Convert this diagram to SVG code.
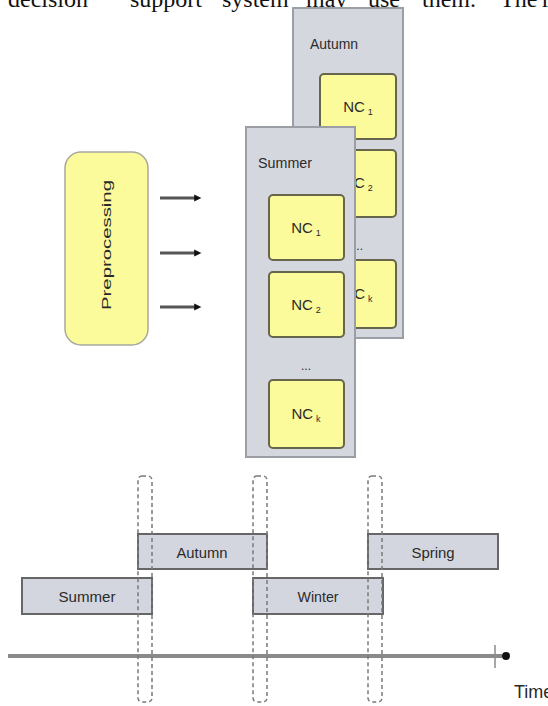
<svg xmlns="http://www.w3.org/2000/svg" width="548" height="706" viewBox="0 0 548 706">
<style>
.body{font-family:"Liberation Serif","Times New Roman",serif;font-size:24px;fill:#111}
.lbl{font-family:"Liberation Sans",Arial,sans-serif;fill:#2a2a2a}
.panel{fill:#d5d7df;stroke:#9c9ea6;stroke-width:2}
.nc{fill:#fbfb9c;stroke:#66664e;stroke-width:2}
.bar{fill:#d4d6df;stroke:#666;stroke-width:2}
.dash{fill:none;stroke:#7a7a7a;stroke-width:1.5;stroke-dasharray:4 3}
.arr{stroke:#555;stroke-width:3;marker-end:url(#ah)}
</style>
<defs>
<marker id="ah" viewBox="0 0 10 10" refX="2" refY="5" markerWidth="3" markerHeight="3" orient="auto">
<path d="M0,1 L8,5 L0,9 Z" fill="#111"/>
</marker>
</defs>
<rect width="548" height="706" fill="#fff"/>
<g id="para">
<text class="body" x="8" y="7">decision</text>
<text class="body" x="130" y="7">support</text>
<text class="body" x="222" y="7">system</text>
<text class="body" x="306" y="7">may</text>
<text class="body" x="368" y="7">use</text>
<text class="body" x="422" y="7">them.</text>
<text class="body" x="500" y="7">The</text>
<text class="body" x="542" y="7">r</text>
</g>
<g id="preprocessing">
<rect x="65" y="152" width="83" height="193" rx="16" fill="#fbfb9c" stroke="#a8a8a0" stroke-width="1.5"/>
<text class="lbl" transform="translate(111,245) rotate(-90)" text-anchor="middle" font-size="13" textLength="130" lengthAdjust="spacingAndGlyphs">Preprocessing</text>
</g>
<g id="connectors">
<line class="arr" x1="160" y1="198" x2="196" y2="198"/>
<line class="arr" x1="160" y1="253" x2="196" y2="253"/>
<line class="arr" x1="160" y1="307" x2="196" y2="307"/>
</g>
<g id="autumn-panel">
<rect class="panel" x="293" y="8" width="110" height="330"/>
<text class="lbl" x="310" y="49" font-size="15" textLength="48" lengthAdjust="spacingAndGlyphs">Autumn</text>
<g id="autumn-nc1"><rect class="nc" x="320" y="74" width="76" height="65" rx="4"/><text class="lbl" x="358" y="112" font-size="15" text-anchor="middle">NC<tspan font-size="9" dx="3" dy="3">1</tspan></text></g>
<g id="autumn-nc2"><rect class="nc" x="320" y="150" width="76" height="67" rx="4"/><text class="lbl" x="358" y="188" font-size="15" text-anchor="middle">NC<tspan font-size="9" dx="3" dy="3">2</tspan></text></g>
<text class="lbl" x="358" y="250" font-size="12" text-anchor="middle" fill="#777">...</text>
<g id="autumn-nck"><rect class="nc" x="320" y="260" width="76" height="68" rx="4"/><text class="lbl" x="358" y="299" font-size="15" text-anchor="middle">NC<tspan font-size="9" dx="3" dy="3">k</tspan></text></g>
</g>
<g id="summer-panel">
<rect class="panel" x="246" y="127" width="109" height="330"/>
<text class="lbl" x="258" y="168" font-size="15" textLength="54" lengthAdjust="spacingAndGlyphs">Summer</text>
<g id="summer-nc1"><rect class="nc" x="269" y="195" width="75" height="65" rx="4"/><text class="lbl" x="306" y="233" font-size="15" text-anchor="middle">NC<tspan font-size="9" dx="3" dy="3">1</tspan></text></g>
<g id="summer-nc2"><rect class="nc" x="269" y="272" width="75" height="65" rx="4"/><text class="lbl" x="306" y="310" font-size="15" text-anchor="middle">NC<tspan font-size="9" dx="3" dy="3">2</tspan></text></g>
<text class="lbl" x="306" y="370" font-size="12" text-anchor="middle" fill="#777">...</text>
<g id="summer-nck"><rect class="nc" x="269" y="380" width="75" height="68" rx="4"/><text class="lbl" x="306" y="419" font-size="15" text-anchor="middle">NC<tspan font-size="9" dx="3" dy="3">k</tspan></text></g>
</g>
<g id="timeline">
<g id="bar-autumn"><rect class="bar" x="138" y="534" width="129" height="35"/><text class="lbl" x="202" y="558" font-size="15" text-anchor="middle" textLength="51" lengthAdjust="spacingAndGlyphs">Autumn</text></g>
<g id="bar-spring"><rect class="bar" x="368" y="534" width="130" height="35"/><text class="lbl" x="433" y="558" font-size="15" text-anchor="middle" textLength="43" lengthAdjust="spacingAndGlyphs">Spring</text></g>
<g id="bar-summer"><rect class="bar" x="22" y="578" width="130" height="36"/><text class="lbl" x="87" y="602" font-size="15" text-anchor="middle" textLength="57" lengthAdjust="spacingAndGlyphs">Summer</text></g>
<g id="bar-winter"><rect class="bar" x="253" y="578" width="130" height="36"/><text class="lbl" x="318" y="602" font-size="15" text-anchor="middle" textLength="41" lengthAdjust="spacingAndGlyphs">Winter</text></g>
<line x1="8" y1="656" x2="502" y2="656" stroke="#8a8a8a" stroke-width="4"/>
<line x1="495" y1="645" x2="495" y2="668" stroke="#8a8a8a" stroke-width="1.5"/>
<circle cx="506" cy="656" r="4" fill="#111"/>
<rect class="dash" x="138" y="476" width="14" height="226" rx="4"/>
<rect class="dash" x="253" y="476" width="14" height="226" rx="4"/>
<rect class="dash" x="368" y="476" width="14" height="226" rx="4"/>
<text class="lbl" x="514" y="698" font-size="18">Time</text>
</g>
</svg>
